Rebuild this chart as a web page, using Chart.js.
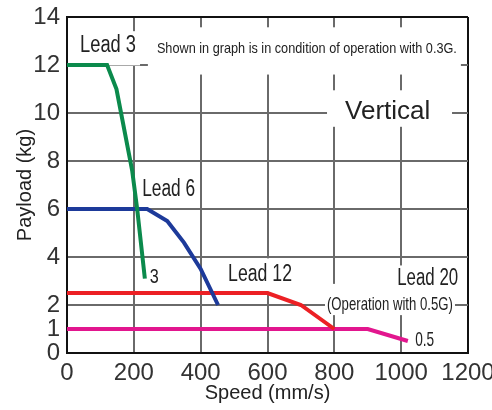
<!DOCTYPE html>
<html>
<head>
<meta charset="utf-8">
<script src="https://cdn.jsdelivr.net/npm/chart.js@4/dist/chart.umd.min.js"></script>
<style>
  html, body { margin: 0; padding: 0; background: #fff; }
  #wrap { width: 492px; height: 410px; }
</style>
</head>
<body>
<div id="wrap"><canvas id="payloadChart" width="492" height="410"></canvas></div>
<script>
// -------------------------------
// DATA (speed mm/s -> payload kg)
// -------------------------------
const lead3Speed  = [0, 120, 148, 195, 210, 233];
const lead3Load   = [12, 12, 11, 7.6, 6, 3.1];

const lead6Speed  = [0, 240, 300, 350, 400, 452];
const lead6Load   = [6, 6, 5.5, 4.6, 3.5, 2];

const lead12Speed = [0, 600, 700, 800];
const lead12Load  = [2.5, 2.5, 2, 1];

const lead20Speed = [0, 900, 1020];
const lead20Load  = [1, 1, 0.5];

const xTicks = [0, 200, 400, 600, 800, 1000, 1200];
const yTicks = [0, 1, 2, 4, 6, 8, 10, 12, 14];
const xGrid  = [200, 400, 600, 800, 1000];
const yGrid  = [2, 4, 6, 8, 10, 12];
const xEdge  = 1200;
const yEdge  = 14;

const NARROW = "'Liberation Sans Narrow', 'Arial Narrow', 'Liberation Sans', Arial, sans-serif";
const SANS = "'Liberation Sans', Arial, sans-serif";

function toPoints(xs, ys) {
  return xs.map((x, i) => ({ x: x, y: ys[i] }));
}

// -------------------------------
// LABELS ON THE PLOT (white box behind)
// box = [left, top, right, bottom] padding
// -------------------------------
const notes = [
  { text: "Lead 3", x: 39, y: 12.8, font: "23px " + NARROW, w: 56, box: [10, 6, 4, 11] },
  { text: "Shown in graph is in condition of operation with 0.3G.", x: 269, y: 12.67, font: "15px " + NARROW, w: 300, box: [9, 16, 4, 20] },
  { text: "Vertical", x: 832, y: 10.04, font: "26px " + SANS, w: 87, box: [18, 12, 20, 5] },
  { text: "Lead 6", x: 225, y: 6.8, font: "23px " + NARROW, w: 53, box: [0, 4, 3, 4] },
  { text: "3", x: 248, y: 3.17, font: "21px " + NARROW, w: 9, box: [0, 0, 0, 0] },
  { text: "Lead 12", x: 482, y: 3.25, font: "23px " + NARROW, w: 64, box: [5, 8, 6, 8] },
  { text: "Lead 20", x: 988, y: 3.08, font: "23px " + NARROW, w: 61, box: [7, 5, 4, 4] },
  { text: "(Operation with 0.5G)", x: 778, y: 2.0, font: "19px " + NARROW, w: 126, box: [2, 14, 2, 3] },
  { text: "0.5", x: 1042, y: 0.54, font: "21px " + NARROW, w: 19, box: [0, 0, 0, 0] },
];

const notesPlugin = {
  id: "notes",
  beforeDatasetsDraw(chart) {
    const { ctx, scales } = chart;
    ctx.save();
    ctx.fillStyle = "#fff";
    notes.forEach(n => {
      const px = scales.x.getPixelForValue(n.x);
      const py = scales.y.getPixelForValue(n.y);
      const [l, t, r, b] = n.box;
      if (l + t + r + b === 0) return;
      const h = parseInt(n.font, 10) * 0.75;
      ctx.fillRect(px - l, py - h / 2 - t, n.w + l + r, h + t + b);
    });
    ctx.restore();
  },
  afterDatasetsDraw(chart) {
    const { ctx, scales } = chart;
    ctx.save();
    ctx.fillStyle = "#222";
    ctx.textBaseline = "middle";
    ctx.textAlign = "left";
    notes.forEach(n => {
      ctx.font = n.font;
      ctx.fillText(n.text, scales.x.getPixelForValue(n.x), scales.y.getPixelForValue(n.y), n.w);
    });
    ctx.restore();
  }
};

// grid colour per tick: grey inside, black on the top / right edge
function gridColor(inner, edge) {
  return c => {
    const v = c.tick ? c.tick.value : null;
    if (v === edge) return "#111";
    return inner.includes(v) ? "#6a6a6a" : "rgba(0,0,0,0)";
  };
}

// -------------------------------
// CHART
// -------------------------------
function lineSet(label, xs, ys, color) {
  return {
    label: label,
    data: toPoints(xs, ys),
    borderColor: color,
    backgroundColor: color,
    borderWidth: 4,
    pointRadius: 0,
    showLine: true,
    fill: false,
    tension: 0,
  };
}

new Chart(document.getElementById("payloadChart"), {
  type: "scatter",
  data: {
    datasets: [
      lineSet("Lead 3", lead3Speed, lead3Load, "#0b8a4c"),
      lineSet("Lead 6", lead6Speed, lead6Load, "#1d3a9a"),
      lineSet("Lead 12", lead12Speed, lead12Load, "#ec2024"),
      lineSet("Lead 20", lead20Speed, lead20Load, "#e2168e"),
    ],
  },
  options: {
    responsive: false,
    animation: false,
    layout: { padding: { top: 17, right: 24, left: 0, bottom: 0 } },
    plugins: { legend: { display: false }, tooltip: { enabled: false } },
    scales: {
      x: {
        type: "linear",
        min: 0,
        max: 1200,
        afterBuildTicks: s => { s.ticks = xTicks.map(v => ({ value: v })); },
        afterFit: s => { s.height = 57; s.paddingLeft = 0; s.paddingRight = 0; },
        grid: {
          drawTicks: false,
          lineWidth: 2,
          color: gridColor(xGrid, xEdge),
        },
        border: { display: true, color: "#111", width: 2 },
        ticks: {
          padding: 6,
          color: "#333",
          font: { family: NARROW, size: 24 },
          callback: v => String(v),
        },
        title: {
          display: true,
          text: "Speed (mm/s)",
          color: "#222",
          font: { family: SANS, size: 20 },
          padding: { top: 0, bottom: 5 },
        },
      },
      y: {
        type: "linear",
        min: 0,
        max: 14,
        afterBuildTicks: s => { s.ticks = yTicks.map(v => ({ value: v })); },
        afterFit: s => { s.width = 67; s.paddingTop = 0; s.paddingBottom = 0; },
        grid: {
          drawTicks: false,
          lineWidth: 2,
          color: gridColor(yGrid, yEdge),
        },
        border: { display: true, color: "#111", width: 2 },
        ticks: {
          padding: 7,
          color: "#333",
          font: { family: NARROW, size: 24 },
          callback: v => String(v),
        },
        title: {
          display: true,
          text: "Payload (kg)",
          color: "#222",
          font: { family: SANS, size: 20 },
          padding: { top: 13, bottom: 0 },
        },
      },
    },
  },
  plugins: [notesPlugin],
});
</script>
</body>
</html>
